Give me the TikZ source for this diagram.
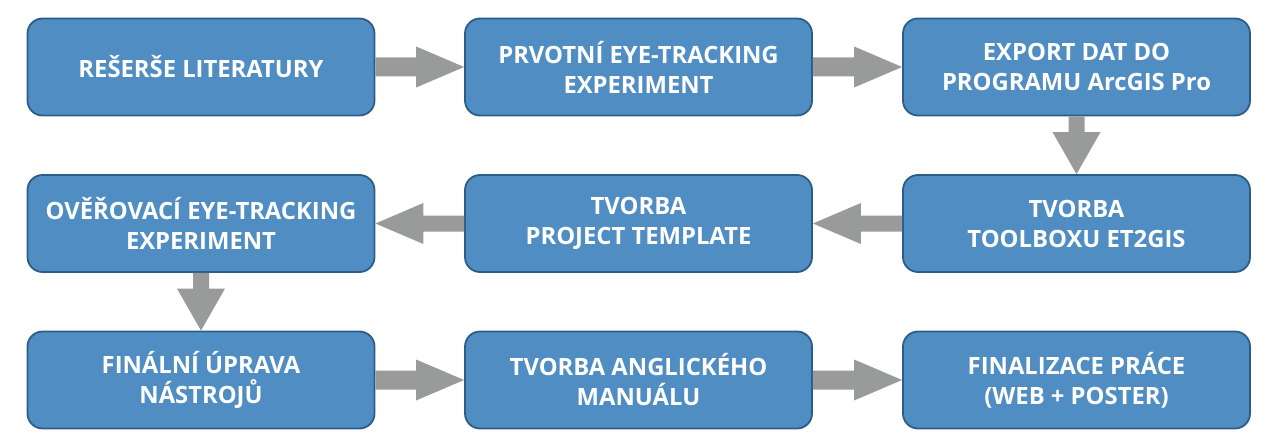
\documentclass[tikz,border=0pt]{standalone}
\usepackage{fontspec}
\setmainfont{Open Sans}
\usetikzlibrary{calc}
\definecolor{boxfill}{HTML}{508DC3}
\definecolor{boxline}{HTML}{2C5C88}
\definecolor{arrowgray}{HTML}{999B9B}
\tikzset{
  box/.style={draw=boxline, line width=1.8pt, fill=boxfill, rounded corners=15pt,
    minimum width=347pt, minimum height=97pt, align=center, text=white,
    font=\fontsize{23.8}{30}\selectfont\bfseries, inner sep=0pt},
  arrowfill/.style={fill=arrowgray}
}
% horizontal block arrow to the right
\newcommand{\rArrow}[2]{%
  \fill[arrowfill] let \p1=(#1.east), \p2=(#2.west) in
    (\x1,\y1+9.5pt) -- (\x2-48pt,\y1+9.5pt) -- (\x2-48pt,\y1+20.5pt) -- (\x2,\y1)
    -- (\x2-48pt,\y1-20.5pt) -- (\x2-48pt,\y1-9.5pt) -- (\x1,\y1-9.5pt) -- cycle;}
% horizontal block arrow to the left
\newcommand{\lArrow}[2]{%
  \fill[arrowfill] let \p1=(#1.west), \p2=(#2.east) in
    (\x1,\y1+8pt) -- (\x2+48pt,\y1+8pt) -- (\x2+48pt,\y1+20.5pt) -- (\x2,\y1)
    -- (\x2+48pt,\y1-20.5pt) -- (\x2+48pt,\y1-8pt) -- (\x1,\y1-8pt) -- cycle;}
% vertical block arrow downward
\newcommand{\dArrow}[2]{%
  \fill[arrowfill] let \p1=(#1.south), \p2=(#2.north) in
    (\x1-8pt,\y1) -- (\x1-8pt,\y2+42pt) -- (\x1-24pt,\y2+42pt) -- (\x1,\y2)
    -- (\x1+24pt,\y2+42pt) -- (\x1+8pt,\y2+42pt) -- (\x1+8pt,\y1) -- cycle;}
\begin{document}
\begin{tikzpicture}[x=1pt,y=-1pt]
\useasboundingbox (0,0) rectangle (1268,433);
\node[box] (a1) at (201,67) {REŠERŠE LITERATURY};
\node[box] (a2) at (638.5,67) {PRVOTNÍ EYE-TRACKING\\EXPERIMENT};
\node[box] (a3) at (1076.5,67) {EXPORT DAT DO\\PROGRAMU ArcGIS Pro};
\node[box] (b3) at (1076.5,223.5) {TVORBA\\TOOLBOXU ET2GIS};
\node[box] (b2) at (638.5,223.5) {TVORBA\\PROJECT TEMPLATE};
\node[box] (b1) at (201,223.5) {OVĚŘOVACÍ EYE-TRACKING\\EXPERIMENT};
\node[box] (c1) at (201,380) {FINÁLNÍ ÚPRAVA\\NÁSTROJŮ};
\node[box] (c2) at (638.5,380) {TVORBA ANGLICKÉHO\\MANUÁLU};
\node[box] (c3) at (1076.5,380) {FINALIZACE PRÁCE\\(WEB + POSTER)};
\rArrow{a1}{a2}
\rArrow{a2}{a3}
\dArrow{a3}{b3}
\lArrow{b3}{b2}
\lArrow{b2}{b1}
\dArrow{b1}{c1}
\rArrow{c1}{c2}
\rArrow{c2}{c3}
\end{tikzpicture}
\end{document}
